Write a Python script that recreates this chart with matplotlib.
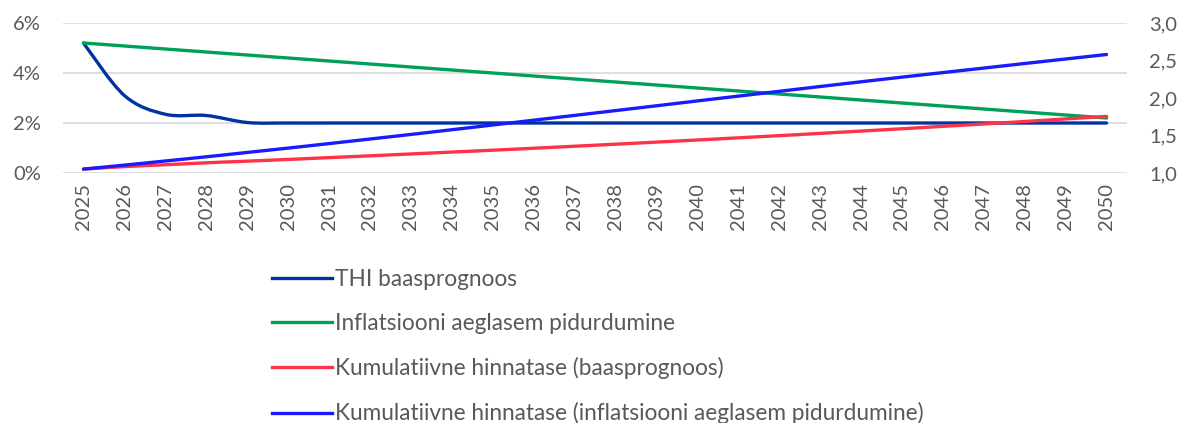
import matplotlib.pyplot as plt
from matplotlib.ticker import FuncFormatter
from matplotlib.path import Path
from matplotlib.patches import PathPatch
from matplotlib.lines import Line2D

plt.rcParams['font.family'] = ['Lato', 'DejaVu Sans']

years = list(range(2025, 2051))

# left axis, % per year
thi_base = [5.2, 3.1, 2.35, 2.3, 2.02, 2.0, 2.0, 2.0, 2.0, 2.0, 2.0, 2.0, 2.0,
            2.0, 2.0, 2.0, 2.0, 2.0, 2.0, 2.0, 2.0, 2.0, 2.0, 2.0, 2.0, 2.0]
infl_slow = [5.2, 5.08, 4.96, 4.84, 4.72, 4.6, 4.48, 4.36, 4.24, 4.12, 4.0, 3.88, 3.76,
             3.64, 3.52, 3.4, 3.28, 3.16, 3.04, 2.92, 2.8, 2.68, 2.56, 2.44, 2.32, 2.2]

# right axis, cumulative price level
cum_base = [1.052, 1.085, 1.110, 1.136, 1.158, 1.181, 1.205, 1.229, 1.254, 1.279,
            1.304, 1.330, 1.357, 1.384, 1.412, 1.440, 1.469, 1.498, 1.528, 1.559,
            1.590, 1.622, 1.654, 1.687, 1.721, 1.755]
cum_slow = [1.052, 1.105, 1.160, 1.216, 1.274, 1.332, 1.392, 1.453, 1.514, 1.577,
            1.640, 1.704, 1.768, 1.832, 1.896, 1.961, 2.025, 2.089, 2.153, 2.216,
            2.278, 2.339, 2.399, 2.460, 2.520, 2.580]

labels = ["THI baasprognoos", "Inflatsiooni aeglasem pidurdumine",
          "Kumulatiivne hinnatase (baasprognoos)",
          "Kumulatiivne hinnatase (inflatsiooni aeglasem pidurdumine)"]
colors = ["#0033a0", "#00a05a", "#ff3347", "#1a1aff"]
gray = "#595959"
lw = 2.4


# smoothed line like excel (bezier through the data points)
def smooth_line(a, xs, ys, color):
    n = len(xs)
    verts = [(xs[0], ys[0])]
    codes = [Path.MOVETO]
    for i in range(n - 1):
        p0 = (xs[max(i - 1, 0)], ys[max(i - 1, 0)])
        p1 = (xs[i], ys[i])
        p2 = (xs[i + 1], ys[i + 1])
        p3 = (xs[min(i + 2, n - 1)], ys[min(i + 2, n - 1)])
        c1 = (p1[0] + (p2[0] - p0[0]) / 6, p1[1] + (p2[1] - p0[1]) / 6)
        c2 = (p2[0] - (p3[0] - p1[0]) / 6, p2[1] - (p3[1] - p1[1]) / 6)
        verts += [c1, c2, p2]
        codes += [Path.CURVE4] * 3
    a.add_patch(PathPatch(Path(verts, codes), fill=False, edgecolor=color,
                          lw=lw, capstyle='round', joinstyle='round'))


fig = plt.figure(figsize=(11.82, 4.23), dpi=100)
ax = fig.add_axes([63/1182, 250/423, 1064/1182, 150/423])
ax2 = ax.twinx()

x = list(range(len(years)))
smooth_line(ax, x, thi_base, colors[0])
smooth_line(ax, x, infl_slow, colors[1])
smooth_line(ax2, x, cum_base, colors[2])
smooth_line(ax2, x, cum_slow, colors[3])

ax.set_xlim(-0.5, len(years) - 0.5)
ax.set_ylim(0, 6)
ax2.set_ylim(1.0, 3.0)
ax.set_yticks([0, 2, 4, 6])
ax2.set_yticks([1.0, 1.5, 2.0, 2.5, 3.0])
ax.yaxis.set_major_formatter(FuncFormatter(lambda v, p: f"{v:.0f}%"))
ax2.yaxis.set_major_formatter(FuncFormatter(lambda v, p: f"{v:.1f}".replace('.', ',')))
ax.set_xticks(x)
ax.set_xticklabels([str(y) for y in years], rotation=90)

ax.grid(axis='y', color='#d9d9d9', lw=1.2)
ax.set_axisbelow(True)
for a in (ax, ax2):
    for s in a.spines.values():
        s.set_visible(False)
    a.tick_params(length=0, labelsize=14.5, labelcolor=gray)
ax.tick_params(axis='y', pad=16)
ax2.tick_params(axis='y', pad=16)
ax.tick_params(axis='x', pad=7)

handles = [Line2D([], [], color=c, lw=lw) for c in colors]
fig.legend(handles, labels, loc='upper left',
           bbox_to_anchor=(272/1182, 1 - 269/423), frameon=False,
           fontsize=16.3, labelcolor=gray, handlelength=2.65, handletextpad=0.13,
           labelspacing=1.02, borderaxespad=0, borderpad=0)

fig.savefig("out.png", dpi=100)
